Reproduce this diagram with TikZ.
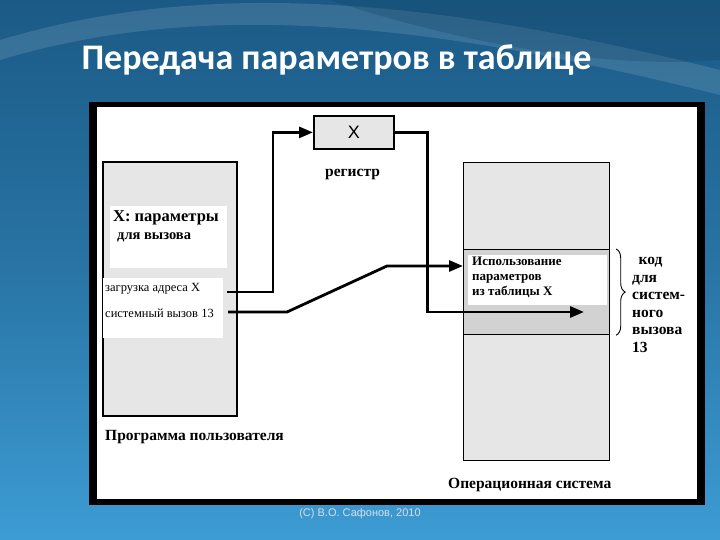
\documentclass[tikz,border=0pt]{standalone}
\usepackage{fontspec}
\setmainfont{Liberation Serif}
\setsansfont{Liberation Sans}
\newfontfamily\titlefont{Carlito}
\usetikzlibrary{positioning,arrows.meta,decorations.pathreplacing}
\definecolor{bgtop}{HTML}{1B5A86}
\definecolor{bgbot}{HTML}{3D9CD4}
\definecolor{boxgray}{HTML}{E6E6E6}
\definecolor{midgray}{HTML}{D2D2D2}
\definecolor{foot}{HTML}{D5DEE8}
\tikzset{
  box/.style = {draw, line width=1.8pt, fill=boxgray, inner sep=0, anchor=north west},
  panel/.style = {fill=white, inner sep=0, anchor=north west},
  lbl/.style = {font=\fontsize{15.5}{17.5}\selectfont\bfseries, inner sep=0, align=left},
  small/.style = {font=\fontsize{12.5}{14}\selectfont, inner sep=0},
  link/.style = {line width=2.8pt, -{Triangle[length=14pt,width=11pt]}},
  curly/.style = {decorate, decoration={brace, amplitude=9pt}, line width=0.9pt},
}

\begin{document}
\begin{tikzpicture}[x=1pt, y=-1pt]
 \useasboundingbox (0,0) rectangle (720,540);
 \shade[top color=bgtop, bottom color=bgbot, middle color=bgtop!60!bgbot] (0,0) rectangle (720,540);
 \fill[white, opacity=0.12] (0,60) .. controls (200,0) and (420,20) .. (720,95) -- (720,70) .. controls (420,-5) and (200,-20) .. (0,40) -- cycle;
 \fill[bgtop!70!black, opacity=0.25] (330,0) .. controls (450,40) and (600,70) .. (720,60) -- (720,0) -- cycle;

 \node[font=\titlefont\bfseries\fontsize{36}{40}\selectfont, text=white, anchor=base west] (title) at (78,70) {Передача параметров в таблице};

 \fill[black] (89,102) rectangle (705,505);
 \fill[white] (97,107) rectangle (697,499);

 \node[box, minimum width=80pt, minimum height=33pt] (reg) at (313,115) {\sffamily\fontsize{18}{20}\selectfont X};
 \node[lbl, anchor=base west] (regtxt) at (325,177) {регистр};

 \node[box, minimum width=134pt, minimum height=254pt] (user) at (102,161) {};
 \node[panel, minimum width=117pt, minimum height=62pt] (parpanel) at (110,206) {};
 \node[lbl, font=\fontsize{16.5}{18}\selectfont\bfseries, anchor=base west] (partxt) at (113,222) {X: параметры};
 \node[lbl, font=\fontsize{14.5}{16}\selectfont\bfseries, anchor=base west] (fortxt) at (117,240) {для вызова};
 \node[panel, minimum width=120pt, minimum height=60pt] (callpanel) at (103,278) {};
 \node[small, anchor=base west] (loadtxt) at (105,291) {загрузка адреса X};
 \node[small, anchor=base west] (calltxt) at (105,317) {системный вызов 13};
 \node[lbl, anchor=base west] (usertxt) at (105,440) {Программа пользователя};

 \node[box, line width=1.2pt, minimum width=146pt, minimum height=87pt] (ostop) at (463,162) {};
 \node[box, line width=1.2pt, fill=midgray, minimum width=146pt, minimum height=85pt] (osmid) at (463,249) {};
 \node[box, line width=1.2pt, minimum width=146pt, minimum height=126pt] (osbot) at (463,334) {};
 \node[panel, minimum width=139pt, minimum height=50pt] (usepanel) at (468,255) {};
 \node[small, font=\fontsize{13}{15}\selectfont\bfseries, anchor=north west, align=left] (usetxt) at (472,257) {Использование\\параметров\\из таблицы X};
 \node[lbl, anchor=base west] (ostxt) at (448,488) {Операционная система};

 \draw[curly] ([xshift=6pt]osmid.north east) -- ([xshift=6pt]osmid.south east);
 \node[lbl, anchor=north west] (codetxt) at (632,257) {\ \,код\\для\\систем-\\ного\\вызова\\13};

 \coordinate (loadout) at (227,292);
 \coordinate (callout) at (228,312);
 \coordinate (usetip) at (584,312);
 \draw[link] (loadout) -- ++(46,0) |- (reg.west);
 \draw[link] (callout) -- ++(59,0) -- ++(100,-46) coordinate (kink) -- (kink -| osmid.west);
 \draw[link] (reg.east) -- ++(33,0) |- (usetip);

 \node[font=\sffamily\fontsize{11}{13}\selectfont, text=foot] (copy) at (360,514) {(С) В.О. Сафонов, 2010};
\end{tikzpicture}
\end{document}
